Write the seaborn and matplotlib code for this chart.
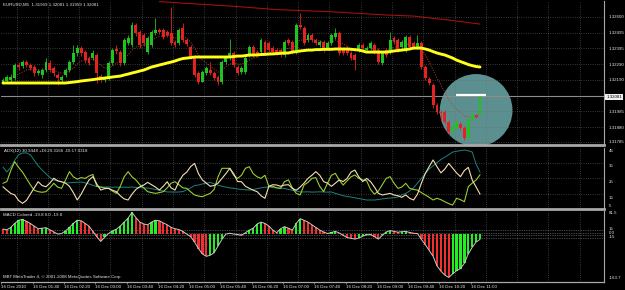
import numpy as np
import pandas as pd
import matplotlib
matplotlib.use("Agg")
import matplotlib.pyplot as plt
import seaborn as sns
from matplotlib.patches import Ellipse

# ---------------- data (EURUSD M5, 16 Dec 2010, 01:00 .. 11:10) ----------------
opens = [1.32174, 1.32181, 1.32187, 1.32200, 1.32285, 1.32278, 1.32304, 1.32285, 1.32272, 1.32233,
         1.32220, 1.32252, 1.32298, 1.32265, 1.32220, 1.32187, 1.32220, 1.32252, 1.32304, 1.32363,
         1.32395, 1.32369, 1.32330, 1.32330, 1.32350, 1.32213, 1.32187, 1.32200, 1.32298, 1.32389,
         1.32369, 1.32298, 1.32428, 1.32415, 1.32545, 1.32499, 1.32480, 1.32369, 1.32415, 1.32493,
         1.32512, 1.32512, 1.32499, 1.32493, 1.32434, 1.32428, 1.32525, 1.32447, 1.32402, 1.32330,
         1.32233, 1.32174, 1.32233, 1.32252, 1.32233, 1.32207, 1.32174, 1.32304, 1.32330, 1.32363,
         1.32272, 1.32239, 1.32239, 1.32350, 1.32402, 1.32369, 1.32369, 1.32434, 1.32428, 1.32395,
         1.32382, 1.32382, 1.32350, 1.32447, 1.32434, 1.32369, 1.32545, 1.32525, 1.32447, 1.32480,
         1.32447, 1.32415, 1.32434, 1.32395, 1.32428, 1.32467, 1.32493, 1.32382, 1.32395, 1.32363,
         1.32350, 1.32382, 1.32415, 1.32382, 1.32395, 1.32415, 1.32382, 1.32298, 1.32382, 1.32369,
         1.32460, 1.32447, 1.32402, 1.32382, 1.32467, 1.32428, 1.32402, 1.32428, 1.32272, 1.32194,
         1.32155, 1.32025, 1.31979, 1.31979, 1.31914, 1.31856, 1.31875, 1.31901, 1.31875, 1.31817,
         1.31934, 1.31960, 1.31959]
highs = [1.32200, 1.32220, 1.32226, 1.32298, 1.32304, 1.32317, 1.32317, 1.32298, 1.32285, 1.32259,
         1.32265, 1.32330, 1.32317, 1.32278, 1.32233, 1.32220, 1.32265, 1.32317, 1.32415, 1.32415,
         1.32408, 1.32382, 1.32343, 1.32382, 1.32363, 1.32226, 1.32213, 1.32311, 1.32395, 1.32415,
         1.32382, 1.32460, 1.32480, 1.32564, 1.32558, 1.32512, 1.32493, 1.32473, 1.32512, 1.32590,
         1.32525, 1.32525, 1.32512, 1.32662, 1.32447, 1.32525, 1.32558, 1.32460, 1.32415, 1.32343,
         1.32246, 1.32252, 1.32278, 1.32304, 1.32246, 1.32220, 1.32317, 1.32343, 1.32454, 1.32376,
         1.32285, 1.32278, 1.32343, 1.32415, 1.32415, 1.32382, 1.32460, 1.32447, 1.32441, 1.32408,
         1.32395, 1.32395, 1.32447, 1.32460, 1.32447, 1.32558, 1.32623, 1.32538, 1.32493, 1.32493,
         1.32460, 1.32447, 1.32447, 1.32441, 1.32493, 1.32525, 1.32506, 1.32395, 1.32408, 1.32376,
         1.32363, 1.32428, 1.32428, 1.32408, 1.32441, 1.32428, 1.32395, 1.32376, 1.32395, 1.32499,
         1.32473, 1.32460, 1.32447, 1.32480, 1.32480, 1.32441, 1.32480, 1.32441, 1.32285, 1.32207,
         1.32168, 1.32038, 1.31992, 1.31992, 1.31927, 1.31895, 1.31927, 1.31914, 1.31888, 1.31940,
         1.31973, 1.31960, 1.32081]
lows = [1.32161, 1.32168, 1.32174, 1.32187, 1.32252, 1.32265, 1.32272, 1.32252, 1.32213, 1.32220,
        1.32200, 1.32239, 1.32239, 1.32213, 1.32155, 1.32174, 1.32207, 1.32239, 1.32291, 1.32343,
        1.32343, 1.32298, 1.32285, 1.32317, 1.32168, 1.32174, 1.32174, 1.32187, 1.32285, 1.32356,
        1.32278, 1.32285, 1.32415, 1.32402, 1.32473, 1.32395, 1.32408, 1.32356, 1.32402, 1.32480,
        1.32486, 1.32454, 1.32467, 1.32415, 1.32402, 1.32415, 1.32434, 1.32408, 1.32324, 1.32207,
        1.32161, 1.32174, 1.32220, 1.32220, 1.32187, 1.32155, 1.32161, 1.32291, 1.32317, 1.32272,
        1.32220, 1.32226, 1.32226, 1.32337, 1.32337, 1.32337, 1.32356, 1.32350, 1.32369, 1.32356,
        1.32350, 1.32337, 1.32337, 1.32415, 1.32356, 1.32356, 1.32519, 1.32415, 1.32434, 1.32434,
        1.32415, 1.32402, 1.32369, 1.32382, 1.32415, 1.32454, 1.32350, 1.32350, 1.32350, 1.32317,
        1.32252, 1.32369, 1.32382, 1.32369, 1.32382, 1.32356, 1.32291, 1.32285, 1.32337, 1.32356,
        1.32421, 1.32369, 1.32389, 1.32369, 1.32389, 1.32389, 1.32389, 1.32259, 1.32187, 1.32155,
        1.32005, 1.31966, 1.31927, 1.31901, 1.31836, 1.31843, 1.31862, 1.31862, 1.31797, 1.31804,
        1.31921, 1.31940, 1.31959]
closes = [1.32187, 1.32207, 1.32207, 1.32285, 1.32272, 1.32304, 1.32285, 1.32265, 1.32233, 1.32246,
          1.32252, 1.32304, 1.32252, 1.32233, 1.32200, 1.32207, 1.32252, 1.32304, 1.32363, 1.32395,
          1.32363, 1.32317, 1.32298, 1.32363, 1.32233, 1.32187, 1.32200, 1.32298, 1.32382, 1.32376,
          1.32298, 1.32447, 1.32460, 1.32545, 1.32493, 1.32415, 1.32428, 1.32460, 1.32499, 1.32512,
          1.32499, 1.32467, 1.32480, 1.32428, 1.32415, 1.32512, 1.32447, 1.32421, 1.32337, 1.32220,
          1.32174, 1.32239, 1.32265, 1.32233, 1.32200, 1.32174, 1.32304, 1.32330, 1.32363, 1.32285,
          1.32233, 1.32265, 1.32330, 1.32402, 1.32350, 1.32350, 1.32447, 1.32363, 1.32382, 1.32369,
          1.32363, 1.32350, 1.32434, 1.32428, 1.32369, 1.32545, 1.32532, 1.32428, 1.32480, 1.32447,
          1.32428, 1.32434, 1.32382, 1.32428, 1.32480, 1.32493, 1.32363, 1.32363, 1.32363, 1.32330,
          1.32317, 1.32415, 1.32395, 1.32395, 1.32428, 1.32369, 1.32304, 1.32363, 1.32350, 1.32447,
          1.32434, 1.32382, 1.32434, 1.32467, 1.32402, 1.32402, 1.32428, 1.32272, 1.32200, 1.32168,
          1.32025, 1.31979, 1.31973, 1.31914, 1.31849, 1.31882, 1.31914, 1.31875, 1.31810, 1.31927,
          1.31960, 1.31947, 1.32081]
ma_slow = [1.32168] * 17 + [
    1.32171, 1.32174, 1.32177, 1.32181, 1.32184, 1.32187, 1.32190, 1.32194, 1.32197, 1.32200,
    1.32203, 1.32207, 1.32210, 1.32213, 1.32220, 1.32226, 1.32233, 1.32239, 1.32246, 1.32252,
    1.32262, 1.32272, 1.32278, 1.32285, 1.32291, 1.32298, 1.32304, 1.32311, 1.32320, 1.32327,
    1.32330, 1.32333] + [1.32337] * 10 + [
    1.32340, 1.32343, 1.32343, 1.32346, 1.32350, 1.32350, 1.32351, 1.32353, 1.32354, 1.32356,
    1.32357, 1.32359, 1.32361, 1.32363, 1.32363, 1.32369, 1.32372, 1.32376, 1.32379, 1.32382,
    1.32382, 1.32385, 1.32385, 1.32387, 1.32387, 1.32387, 1.32389, 1.32389, 1.32389, 1.32389,
    1.32387, 1.32385, 1.32382, 1.32376, 1.32369, 1.32369, 1.32369, 1.32369, 1.32369, 1.32369,
    1.32372, 1.32376, 1.32379, 1.32382, 1.32385, 1.32389, 1.32395, 1.32395, 1.32395, 1.32389,
    1.32382, 1.32372, 1.32363, 1.32356, 1.32350, 1.32340, 1.32330, 1.32317, 1.32307, 1.32298,
    1.32288, 1.32281, 1.32275, 1.32272]
ma_fast = [1.32187, 1.32194, 1.32200, 1.32213, 1.32226, 1.32239, 1.32252, 1.32259, 1.32259, 1.32252,
           1.32252, 1.32252, 1.32259, 1.32252, 1.32239, 1.32233, 1.32233, 1.32246, 1.32265, 1.32291,
           1.32311, 1.32317, 1.32317, 1.32324, 1.32304, 1.32285, 1.32265, 1.32265, 1.32278, 1.32298,
           1.32304, 1.32330, 1.32350, 1.32382, 1.32402, 1.32408, 1.32415, 1.32428, 1.32441, 1.32460,
           1.32473, 1.32473, 1.32480, 1.32473, 1.32460, 1.32467, 1.32467, 1.32460, 1.32434, 1.32395,
           1.32350, 1.32317, 1.32298, 1.32278, 1.32259, 1.32239, 1.32252, 1.32272, 1.32291, 1.32298,
           1.32291, 1.32291, 1.32298, 1.32317, 1.32330, 1.32337, 1.32356, 1.32363, 1.32363, 1.32369,
           1.32369, 1.32369, 1.32382, 1.32395, 1.32395, 1.32421, 1.32447, 1.32447, 1.32454, 1.32454,
           1.32447, 1.32441, 1.32428, 1.32428, 1.32434, 1.32447, 1.32434, 1.32421, 1.32408, 1.32395,
           1.32376, 1.32382, 1.32389, 1.32389, 1.32395, 1.32395, 1.32376, 1.32369, 1.32369, 1.32389,
           1.32402, 1.32402, 1.32408, 1.32421, 1.32421, 1.32415, 1.32415, 1.32389, 1.32350, 1.32304,
           1.32252, 1.32200, 1.32155, 1.32109, 1.32057, 1.32025, 1.31999, 1.31979, 1.31953, 1.31947,
           1.31947, 1.31953, 1.31973]
trend_bars = [40, 50, 60, 70, 84, 98, 105, 114, 122]
trend_vals = [1.32697, 1.32681, 1.32665, 1.32645, 1.32631, 1.32610, 1.32603, 1.32577, 1.32551]
mark_bars = [115.9, 123.5]
mark_price = 1.32090

adx = [34.2, 31.1, 34.0, 38.5, 42.0, 43.1, 43.2, 42.0, 38.5, 35.0,
       32.3, 30.0, 27.5, 26.0, 25.3, 24.7, 24.1, 24.2, 24.4, 24.6,
       24.7, 24.2, 23.5, 22.6, 21.8, 21.5, 21.5, 21.6, 21.4, 21.5,
       21.3, 21.5, 21.4, 21.5, 21.3, 21.2, 21.0, 20.9, 20.5, 20.0,
       19.5, 19.0, 18.4, 18.4, 18.3, 18.4, 18.6, 19.8, 21.0, 22.5,
       22.8, 23.5, 24.0, 24.4, 23.5, 22.7, 22.0, 21.5, 21.0, 20.7,
       20.3, 20.0, 19.8, 19.6, 20.0, 20.5, 21.0, 21.4, 21.5, 21.2,
       21.0, 20.9, 20.6, 20.0, 19.5, 19.0, 18.4, 18.4, 18.5, 18.3,
       18.4, 18.5, 18.4, 18.3, 18.4, 17.5, 16.8, 16.0, 15.5, 15.2,
       14.7, 14.2, 13.8, 13.3, 13.3, 13.3, 13.6, 14.0, 14.3, 14.6,
       14.8, 15.2, 16.5, 17.5, 19.0, 21.0, 24.0, 27.0, 30.0, 33.0,
       35.0, 37.0, 39.0, 40.5, 42.0, 43.7, 44.2, 44.6, 45.0, 44.5,
       43.7, 36.0, 30.9448]
plus_di = [23.9, 25.0, 32.0, 37.6, 34.0, 31.0, 27.0, 23.0, 19.5, 18.6,
           18.2, 18.6, 21.0, 23.9, 21.5, 20.7, 26.0, 31.3, 28.0, 26.5,
           27.5, 27.0, 28.5, 29.5, 22.0, 21.5, 21.0, 20.7, 19.0, 17.5,
           22.0, 28.0, 31.3, 28.0, 26.0, 23.0, 21.0, 18.6, 18.0, 17.5,
           18.0, 18.6, 21.0, 24.0, 24.9, 23.0, 21.0, 20.7, 18.5, 16.5,
           15.8, 15.4, 16.5, 17.5, 20.0, 28.0, 33.4, 33.4, 33.4, 29.0,
           27.0, 29.0, 33.4, 34.4, 30.0, 28.0, 27.0, 29.0, 22.0, 22.0,
           21.0, 20.7, 25.0, 26.0, 21.0, 17.5, 16.5, 22.8, 24.5, 27.0,
           27.5, 22.0, 18.6, 24.0, 29.0, 30.2, 26.0, 22.8, 25.5, 28.0,
           29.2, 27.0, 26.0, 25.5, 20.0, 17.0, 19.0, 23.0, 27.0, 28.1,
           24.0, 20.7, 21.5, 23.9, 20.7, 20.0, 19.6, 18.0, 16.5, 15.0,
           13.3, 14.4, 13.5, 12.2, 11.0, 10.1, 14.4, 13.5, 12.2, 21.8,
           24.0, 26.0, 29.3166]
minus_di = [21.7, 19.5, 17.5, 16.5, 13.0, 11.2, 13.0, 17.0, 21.0, 24.9,
            22.5, 21.7, 24.0, 27.1, 25.5, 24.9, 24.0, 22.0, 18.0, 13.3,
            17.0, 21.7, 26.0, 28.1, 23.5, 19.6, 20.5, 20.7, 19.5, 18.6,
            16.0, 14.0, 13.3, 17.0, 20.0, 21.7, 22.8, 24.5, 23.0, 21.5,
            19.6, 22.0, 24.9, 21.0, 19.6, 25.0, 29.0, 31.0, 34.5, 36.5,
            30.0, 26.0, 24.0, 22.0, 22.5, 24.0, 27.0, 30.0, 33.4, 30.0,
            25.0, 24.9, 22.0, 20.7, 19.5, 18.6, 16.0, 14.4, 22.0, 23.0,
            22.8, 22.0, 22.8, 23.0, 20.7, 19.5, 21.5, 24.0, 27.0, 29.0,
            31.3, 29.0, 25.0, 24.0, 22.0, 24.0, 26.0, 25.0, 27.0, 31.0,
            32.3, 28.0, 25.0, 27.0, 25.0, 21.5, 17.5, 16.5, 17.0, 17.5,
            16.5, 16.0, 15.0, 16.5, 14.4, 13.3, 17.0, 24.0, 30.2, 34.5,
            38.7, 34.4, 30.5, 33.0, 36.5, 33.5, 30.5, 28.1, 32.0, 34.0,
            26.0, 21.5, 17.0318]
macd = [19, 16, 25, 40, 52, 55, 48, 40, 30, 20,
        22, 24, 16, 8, 0, 2, 12, 25, 40, 52,
        50, 40, 30, 10, -10, -28, -12, 2, 12, 18,
        30, 45, 60, 81.5, 62, 45, 38, 35, 45, 52,
        50, 42, 35, 25, 20, 17, 10, 0, -10, -30,
        -55, -75, -84, -80, -70, -45, -20, 0, 3, 0,
        -2, -5, 5, 15, 22, 38, 45, 40, 30, 15,
        5, 20, 28, 22, 15, 40, 58, 52, 45, 35,
        25, 15, 8, 2, 6, 10, 4, -5, -13, -16,
        -19, -15, -8, -3, -2, -10, -19, -5, 8, 13,
        10, 7, 9, 10, 6, 3, 2, -20, -40, -62,
        -84, -120, -140, -155, -163.7, -150, -138, -130, -110, -75,
        -50, -30, -19.8]

time_labels = ["16 Dec 2010", "16 Dec 01:40", "16 Dec 02:20", "16 Dec 03:00", "16 Dec 03:40",
               "16 Dec 04:20", "16 Dec 05:00", "16 Dec 05:40", "16 Dec 06:20", "16 Dec 07:00",
               "16 Dec 07:40", "16 Dec 08:20", "16 Dec 09:00", "16 Dec 09:40", "16 Dec 10:20",
               "16 Dec 11:00"]
price_ticks = [1.32600, 1.32495, 1.32395, 1.32290, 1.32190, 1.31985, 1.31880, 1.31785]
current_price = 1.32081
adx_ticks = [45, 35, 25, 15]
macd_levels = [15, 5, -5, -15]
macd_max, macd_min = 81.5, -163.7

header_main = "EURUSD,M5  1.31959 1.32081 1.31959 1.32081"
header_adx = "ADX(12) 30.9448 +DI:29.3166 -DI:17.0318"
header_macd = "MACD Colored -19.8 0.0 -19.8"
footer = "MBT MetaTrader 4, \u00a9 2001-2008 MetaQuotes Software Corp."

# ---------------- style ----------------
sns.set_theme(style="dark")
plt.rcParams['font.family'] = ['Liberation Sans', 'DejaVu Sans']
W, H = 625, 290
fig = plt.figure(figsize=(W / 100, H / 100), dpi=100, facecolor="black")

def fx(px):
    return px / W

def fy(py):
    return 1 - py / H

GREEN = "#1fc21f"
RED = "#e52222"
GRID = "#6a6a6a"
TXT = "#e6e6e6"
SEP = "#a8a8a8"
FS = 3.2

left, right = 1, 604
ax_main = fig.add_axes([fx(left), fy(145), fx(right - left), (145 - 1) / H])
ax_adx = fig.add_axes([fx(left), fy(209), fx(right - left), (209 - 147.5) / H])
ax_macd = fig.add_axes([fx(left), fy(281.5), fx(right - left), (281.5 - 211) / H])

n = len(closes)
bars = np.arange(n)
xmin, xmax = -0.5, 153.7
grid_x = np.arange(3.5, xmax, 8)

for ax in (ax_main, ax_adx, ax_macd):
    ax.set_facecolor("black")
    ax.set_xlim(xmin, xmax)
    ax.grid(False)
    for s in ax.spines.values():
        s.set_visible(False)
    ax.spines['right'].set_visible(True)
    ax.spines['right'].set_color(SEP)
    ax.spines['right'].set_linewidth(0.8)
    for gx in grid_x:
        ax.axvline(gx, color=GRID, lw=0.5, ls=(0, (1, 2.2)), zorder=1)
    ax.yaxis.tick_right()
    ax.tick_params(axis='y', labelsize=FS, labelcolor=TXT, length=0, pad=3.5)
    ax.tick_params(axis='x', bottom=False, labelbottom=False)

# ---------------- main price panel ----------------
ax = ax_main
ax.set_ylim(1.31765, 1.32701)
ax.spines['bottom'].set_visible(True)
ax.spines['bottom'].set_color(SEP)
ax.spines['bottom'].set_linewidth(2.0)
for p in price_ticks + [current_price]:
    ax.axhline(p, color=GRID, lw=0.5, ls=(0, (1, 2.2)), zorder=1)
ax.set_yticks(price_ticks)
ax.set_yticklabels([f"{p:.5f}" for p in price_ticks])

# circle (background object)
ell = Ellipse((121.0, 1.31990), width=18.6, height=0.00472, facecolor="#5c9090",
              edgecolor="none", zorder=0.8)
ax.add_patch(ell)
ax.axhline(current_price, color="#8c8c8c", lw=0.8, zorder=1.5)

o = np.array(opens); c = np.array(closes); h = np.array(highs); l = np.array(lows)
col = np.where(c >= o, GREEN, RED)
ax.vlines(bars, l, h, colors=col, linewidth=0.6, zorder=3)
ax.bar(bars, np.maximum(np.abs(c - o), 0.000025), bottom=np.minimum(o, c), width=0.74,
       color=col, linewidth=0, zorder=3)

df = pd.DataFrame({"bar": bars, "ma_slow": ma_slow, "ma_fast": ma_fast,
                   "adx": adx, "plus_di": plus_di, "minus_di": minus_di, "macd": macd})
sns.lineplot(data=df, x="bar", y="ma_fast", ax=ax, color="#b0482a", linewidth=0.7,
             linestyle=(0, (1, 1.6)), zorder=2.5)
sns.lineplot(data=df, x="bar", y="ma_slow", ax=ax, color="#ffff1a", linewidth=2.1, zorder=4)
sns.lineplot(x=trend_bars, y=trend_vals, ax=ax, color="#a01010", linewidth=0.8, zorder=4)
ax.plot(mark_bars, [mark_price, mark_price], color="white", lw=1.6, zorder=5,
        solid_capstyle="butt")
ax.set_xlabel(""); ax.set_ylabel("")

# ---------------- ADX panel ----------------
ax = ax_adx
ax.set_ylim(7.6, 46.6)
ax.spines['bottom'].set_visible(True)
ax.spines['bottom'].set_color(SEP)
ax.spines['bottom'].set_linewidth(2.0)
for lv in (37.0, 27.1, 17.2):
    ax.axhline(lv, color=GRID, lw=0.5, ls=(0, (1, 2.2)), zorder=1)
sns.lineplot(data=df, x="bar", y="adx", ax=ax, color="#1f8282", linewidth=0.7, zorder=3)
sns.lineplot(data=df, x="bar", y="plus_di", ax=ax, color="#9acd32", linewidth=0.8, zorder=3)
sns.lineplot(data=df, x="bar", y="minus_di", ax=ax, color="#f5deb3", linewidth=0.8, zorder=3)
ax.set_yticks(adx_ticks)
ax.set_yticklabels([str(t) for t in adx_ticks])
ax.set_xlabel(""); ax.set_ylabel("")
fig.text(fx(609), fy(206), "5", fontsize=FS, color=TXT, va="center", ha="left")

# ---------------- MACD panel ----------------
ax = ax_macd
ax.set_ylim(-179, 87)
ax.spines['bottom'].set_visible(True)
ax.spines['bottom'].set_color(SEP)
ax.spines['bottom'].set_linewidth(0.9)
for lv in macd_levels:
    ax.axhline(lv, color="#8a8a8a", lw=0.5, ls=(0, (1, 1.5)), zorder=1)
m = np.array(macd)
rising = np.r_[False, m[1:] > m[:-1]]
mcol = np.where(rising, "#22f022", "#f03030")
ax.bar(bars, m, width=0.58, color=mcol, linewidth=0, zorder=3)
sns.lineplot(data=df, x="bar", y="macd", ax=ax, color="#c8c8c8", linewidth=0.7, zorder=4)
ax.set_yticks([macd_max, macd_min])
ax.set_yticklabels([f"{macd_max:.1f}", f"{macd_min:.1f}"])
ax.set_ylabel("")
tick_pos = np.arange(len(time_labels)) * 8 - 0.4
ax.set_xticks(tick_pos)
ax.set_xticklabels(time_labels, ha="left")
ax.tick_params(axis='x', bottom=True, labelbottom=True, labelsize=FS, labelcolor=TXT,
               color=SEP, length=1.5, width=0.5, pad=0.8)
ax.set_xlabel("")
for lbl, yy in (("15", 229.5), ("0.0", 233.5), ("-15", 237.5)):
    fig.text(fx(609), fy(yy), lbl, fontsize=FS, color=TXT, va="center", ha="left")

# ---------------- texts ----------------
fig.text(fx(3), fy(5), header_main, fontsize=FS, color=TXT, va="center", ha="left")
fig.text(fx(4), fy(151), header_adx, fontsize=FS, color=TXT, va="center", ha="left")
fig.text(fx(3), fy(214.5), header_macd, fontsize=FS, color=TXT, va="center", ha="left")
fig.text(fx(3), fy(277), footer, fontsize=FS, color=TXT, va="center", ha="left")
fig.text(fx(606.5), fy(97), f"{current_price:.5f}", fontsize=FS, color="black",
         va="center", ha="left",
         bbox=dict(boxstyle="square,pad=0.25", facecolor="#f0f0f0", edgecolor="none"))

fig.savefig("out.png", dpi=100, facecolor="black")
